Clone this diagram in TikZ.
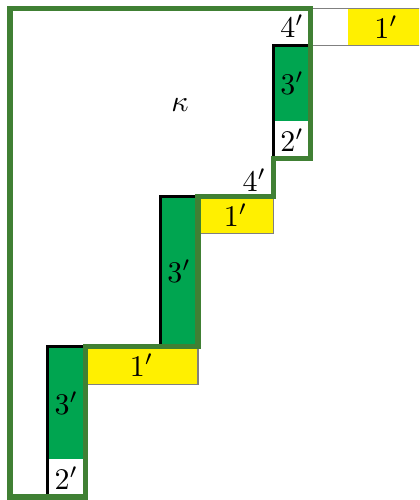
\documentclass[tikz,border=0pt]{standalone}
\definecolor{outg}{RGB}{64,128,52}
\definecolor{cellg}{RGB}{0,165,80}
\definecolor{yel}{RGB}{255,240,0}
\begin{document}
\begin{tikzpicture}[x=12.53pt,y=12.53pt,
  lab/.style={inner sep=0pt},
  gcell/.style={fill=cellg},
  ycell/.style={fill=yel,draw=gray,line width=0.4pt},
  edge/.style={draw=black,line width=1pt},
  outline/.style={draw=outg,line width=1.7pt,line join=miter}]
\useasboundingbox (-0.266,-0.08) rectangle (10.878,13.218);
\clip (-0.266,-0.08) rectangle (10.878,13.218);
% green cells
\path[gcell] (1,1) rectangle (2,4);
\path[gcell] (4,4) rectangle (5,8);
\path[gcell] (7,10) rectangle (8,12);
% yellow cells
\path[ycell] (2,3) rectangle (5,4);
\path[ycell] (5,7) rectangle (7,8);
\path[fill=yel] (9,12) rectangle (11.5,13);
\draw[gray,line width=0.4pt] (8,12) -- (11.5,12);
\draw[gray,line width=0.4pt] (8,13) -- (11.5,13);
% black edges
\path[edge] (1,0) -- (1,4) -- (2,4);
\path[edge] (4,4) -- (4,8) -- (5,8);
\path[edge] (7,9) -- (7,12) -- (8,12);
% outline
\path[outline] (0,0) -- (0,13) -- (8,13) -- (8,9) -- (7,9) -- (7,8) -- (5,8) -- (5,4) -- (2,4) -- (2,0) -- cycle;
% labels
\node[lab] (k) at (4.52,10.43) {$\kappa$};
\node[lab] (b3) at (1.5,2.5) {$3'$};
\node[lab] (b2) at (1.5,0.5) {$2'$};
\node[lab] (b1) at (3.5,3.5) {$1'$};
\node[lab] (m3) at (4.5,6) {$3'$};
\node[lab] (m1) at (6,7.5) {$1'$};
\node[lab] (m4) at (6.5,8.42) {$4'$};
\node[lab] (t3) at (7.5,11) {$3'$};
\node[lab] (t2) at (7.5,9.5) {$2'$};
\node[lab] (t4) at (7.5,12.52) {$4'$};
\node[lab] (t1) at (10,12.5) {$1'$};
\end{tikzpicture}
\end{document}
